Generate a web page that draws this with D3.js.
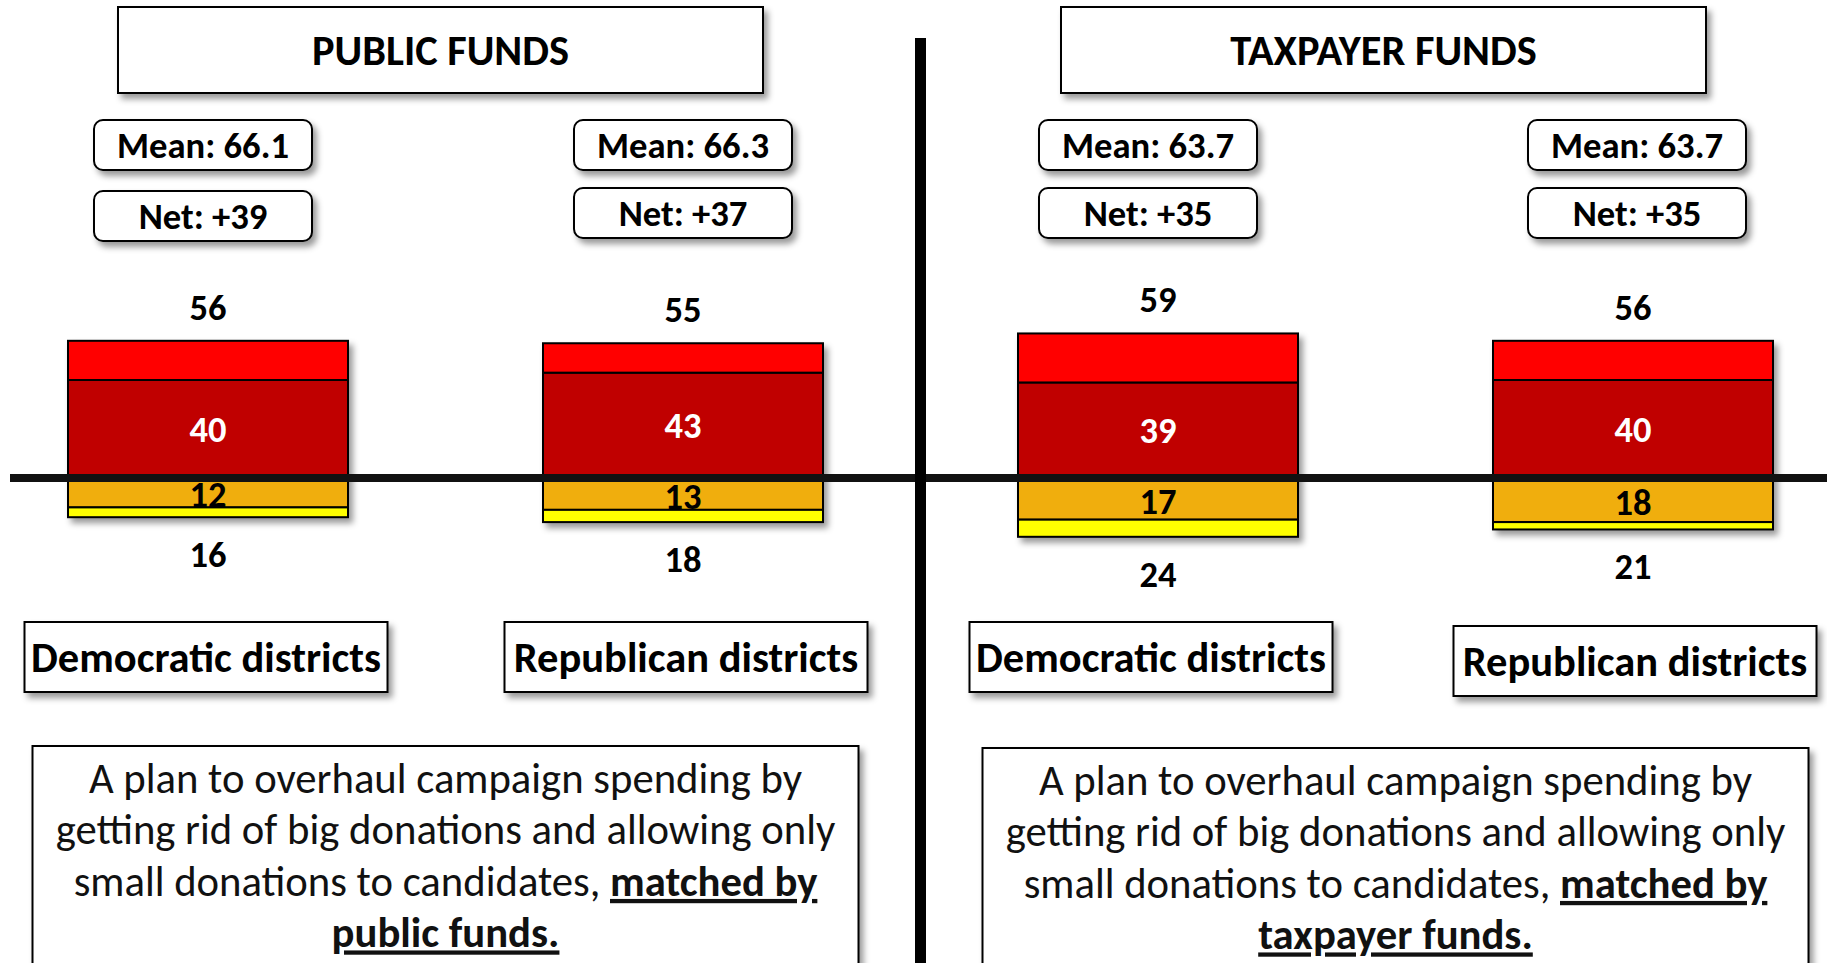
<!DOCTYPE html>
<html>
<head>
<meta charset="utf-8">
<script src="https://cdn.jsdelivr.net/npm/d3@7"></script>
<style>
  body { margin: 0; background: #fff; }
  svg text { font-family: Carlito, Calibri, Lato, sans-serif; }
</style>
</head>
<body>
<div id="chart"></div>
<script>
// values
var panelTitles = ["PUBLIC FUNDS", "TAXPAYER FUNDS"];
var panelFunds = ["public funds.", "taxpayer funds."];
var groups = ["pubDem", "pubRep", "taxDem", "taxRep"];
var districtLabels = ["Democratic districts", "Republican districts", "Democratic districts", "Republican districts"];
var means = ["66.1", "66.3", "63.7", "63.7"];
var nets = ["+39", "+37", "+35", "+35"];
var strongSupport = [16, 12, 20, 16];
var somewhatSupport = [40, 43, 39, 40];
var somewhatOppose = [12, 13, 17, 18];
var strongOppose = [4, 5, 7, 3];
var supportTotals = [56, 55, 59, 56];
var opposeTotals = [16, 18, 24, 21];
var bodyLines = ["A plan to overhaul campaign spending by",
                 "getting rid of big donations and allowing only",
                 "small donations to candidates, "];
var bodyBold = "matched by";

var width = 1827, height = 963;
var colors = {
    somewhatSupport: "#c00000",
    strongSupport: "#ff0000",
    somewhatOppose: "#f0ae0a",
    strongOppose: "#ffff00"
};
// small hand nudges, the boxes in the original are not exactly centred
var titleNudge = [-5, -12];
var statNudge = [-5, 0, -10, 4];
var distNudge = [-2, 3, -7, 2];

var svg = d3.select("#chart").append("svg")
    .attr("width", width)
    .attr("height", height);

var defs = svg.append("defs");
var shadow = defs.append("filter").attr("id", "shadow")
    .attr("x", "-10%").attr("y", "-10%").attr("width", "130%").attr("height", "140%");
shadow.append("feDropShadow")
    .attr("dx", 4).attr("dy", 5).attr("stdDeviation", 3)
    .attr("flood-color", "#000").attr("flood-opacity", 0.4);

// pick font sizes so the text spans what it does in the picture
function fitSize(txt, weight, targetW) {
    var t = svg.append("text").attr("font-size", 100).attr("font-weight", weight).text(txt);
    var w = t.node().getComputedTextLength();
    t.remove();
    return 100 * targetW / w;
}
var titleSize = fitSize("PUBLIC FUNDS", "bold", 257);
var boxSize = fitSize("Mean: 66.1", "bold", 172);
var districtSize = fitSize("Democratic districts", "bold", 350);
var numSize = fitSize("56", "bold", 37);
var bodySize = fitSize(bodyLines[1], "normal", 780);

var x = d3.scalePoint().domain(groups).range([208, 1633]);
var y = d3.scaleLinear().domain([0, 60]).range([478, 331]);
var barWidth = 280;

var rows = groups.map(function (g, i) {
    return {
        group: g,
        somewhatSupport: somewhatSupport[i],
        strongSupport: strongSupport[i],
        somewhatOppose: -somewhatOppose[i],
        strongOppose: -strongOppose[i]
    };
});

var stack = d3.stack()
    .keys(["somewhatSupport", "strongSupport", "somewhatOppose", "strongOppose"])
    .offset(d3.stackOffsetDiverging);
var series = stack(rows);

// panel titles
var panelMid = [0, 1].map(function (p) {
    return (x(groups[2 * p]) + x(groups[2 * p + 1])) / 2;
});
var titleW = 645, titleH = 86;
var titles = svg.selectAll(".title")
    .data(panelTitles)
    .enter().append("g")
    .attr("class", "title")
    .attr("transform", function (d, i) { return "translate(" + (panelMid[i] + titleNudge[i]) + ",7)"; });
titles.append("rect")
    .attr("x", -titleW / 2).attr("width", titleW).attr("height", titleH)
    .attr("fill", "#fff").attr("stroke", "#000").attr("stroke-width", 2)
    .attr("filter", "url(#shadow)");
titles.append("text")
    .attr("y", titleH / 2).attr("dy", "0.35em")
    .attr("text-anchor", "middle")
    .attr("font-weight", "bold").attr("font-size", titleSize)
    .text(function (d) { return d; });

// mean / net boxes
var statW = 218, statH = 50;
function statBoxes(cls, top, labels) {
    var g = svg.selectAll("." + cls)
        .data(labels)
        .enter().append("g")
        .attr("class", cls)
        .attr("transform", function (d, i) {
            return "translate(" + (x(groups[i]) + statNudge[i]) + "," + top(i) + ")";
        });
    g.append("rect")
        .attr("x", -statW / 2).attr("width", statW).attr("height", statH)
        .attr("rx", 9).attr("ry", 9)
        .attr("fill", "#fff").attr("stroke", "#000").attr("stroke-width", 2)
        .attr("filter", "url(#shadow)");
    g.append("text")
        .attr("y", statH / 2).attr("dy", "0.35em")
        .attr("text-anchor", "middle")
        .attr("font-weight", "bold").attr("font-size", boxSize)
        .text(function (d) { return d; });
}
statBoxes("mean", function () { return 120; }, means.map(function (m) { return "Mean: " + m; }));
statBoxes("net", function (i) { return i === 0 ? 191 : 188; }, nets.map(function (n) { return "Net: " + n; }));

// stacked bars
var barLayer = svg.append("g").attr("filter", "url(#shadow)");
barLayer.selectAll("g")
    .data(series)
    .enter().append("g")
    .attr("fill", function (d) { return colors[d.key]; })
    .selectAll("rect")
    .data(function (d) { return d; })
    .enter().append("rect")
    .attr("x", function (d) { return x(d.data.group) - barWidth / 2; })
    .attr("y", function (d) { return y(Math.max(d[0], d[1])); })
    .attr("width", barWidth)
    .attr("height", function (d) { return Math.abs(y(d[0]) - y(d[1])); })
    .attr("stroke", "#000")
    .attr("stroke-width", 2);

// zero line
svg.append("line")
    .attr("x1", 10).attr("x2", width)
    .attr("y1", y(0)).attr("y2", y(0))
    .attr("stroke", "#111").attr("stroke-width", 8);

// value labels
function numLabels(values, ypos, fill) {
    svg.append("g").selectAll("text")
        .data(values)
        .enter().append("text")
        .attr("x", function (d, i) { return x(groups[i]); })
        .attr("y", ypos)
        .attr("dy", "0.35em")
        .attr("text-anchor", "middle")
        .attr("font-weight", "bold").attr("font-size", numSize)
        .attr("fill", fill)
        .text(function (d) { return d; });
}
numLabels(supportTotals, function (d) { return y(d) - 34; }, "#000");
numLabels(opposeTotals, function (d) { return y(-d) + 37; }, "#000");
numLabels(somewhatSupport, function (d) { return y(d / 2); }, "#fff");
numLabels(somewhatOppose, function (d) { return y(-d / 2) + 2; }, "#000");

// district boxes
var distW = 363, distH = 70;
var dist = svg.selectAll(".district")
    .data(districtLabels)
    .enter().append("g")
    .attr("class", "district")
    .attr("transform", function (d, i) {
        return "translate(" + (x(groups[i]) + distNudge[i]) + "," + (i === 3 ? 626 : 622) + ")";
    });
dist.append("rect")
    .attr("x", -distW / 2).attr("width", distW).attr("height", distH)
    .attr("fill", "#fff").attr("stroke", "#000").attr("stroke-width", 2)
    .attr("filter", "url(#shadow)");
dist.append("text")
    .attr("y", distH / 2).attr("dy", "0.35em")
    .attr("text-anchor", "middle")
    .attr("font-weight", "bold").attr("font-size", districtSize)
    .text(function (d) { return d; });

// question wording
var noteW = 826;
var notes = svg.selectAll(".note")
    .data(panelFunds)
    .enter().append("g")
    .attr("class", "note")
    .attr("transform", function (d, i) { return "translate(" + panelMid[i] + "," + (746 + 2 * i) + ")"; });
notes.append("rect")
    .attr("x", -noteW / 2).attr("width", noteW).attr("height", 260)
    .attr("fill", "#fff").attr("stroke", "#000").attr("stroke-width", 2)
    .attr("filter", "url(#shadow)");
var lineGap = 51.5;
notes.each(function (fund) {
    var g = d3.select(this);
    bodyLines.forEach(function (line, k) {
        var t = g.append("text")
            .attr("y", 32 + k * lineGap).attr("dy", "0.35em")
            .attr("text-anchor", "middle")
            .attr("font-size", bodySize)
            .attr("fill", "#111");
        t.append("tspan").attr("xml:space", "preserve").text(line);
        if (k === 2) {
            t.append("tspan")
                .attr("font-weight", "bold")
                .attr("text-decoration", "underline")
                .text(bodyBold);
        }
    });
    g.append("text")
        .attr("y", 32 + 3 * lineGap).attr("dy", "0.35em")
        .attr("text-anchor", "middle")
        .attr("font-size", bodySize)
        .attr("font-weight", "bold")
        .attr("text-decoration", "underline")
        .attr("fill", "#111")
        .text(fund);
});

// divider between the two panels
svg.append("line")
    .attr("x1", (x(groups[1]) + x(groups[2])) / 2)
    .attr("x2", (x(groups[1]) + x(groups[2])) / 2)
    .attr("y1", 38).attr("y2", height)
    .attr("stroke", "#000").attr("stroke-width", 11);
</script>
</body>
</html>
